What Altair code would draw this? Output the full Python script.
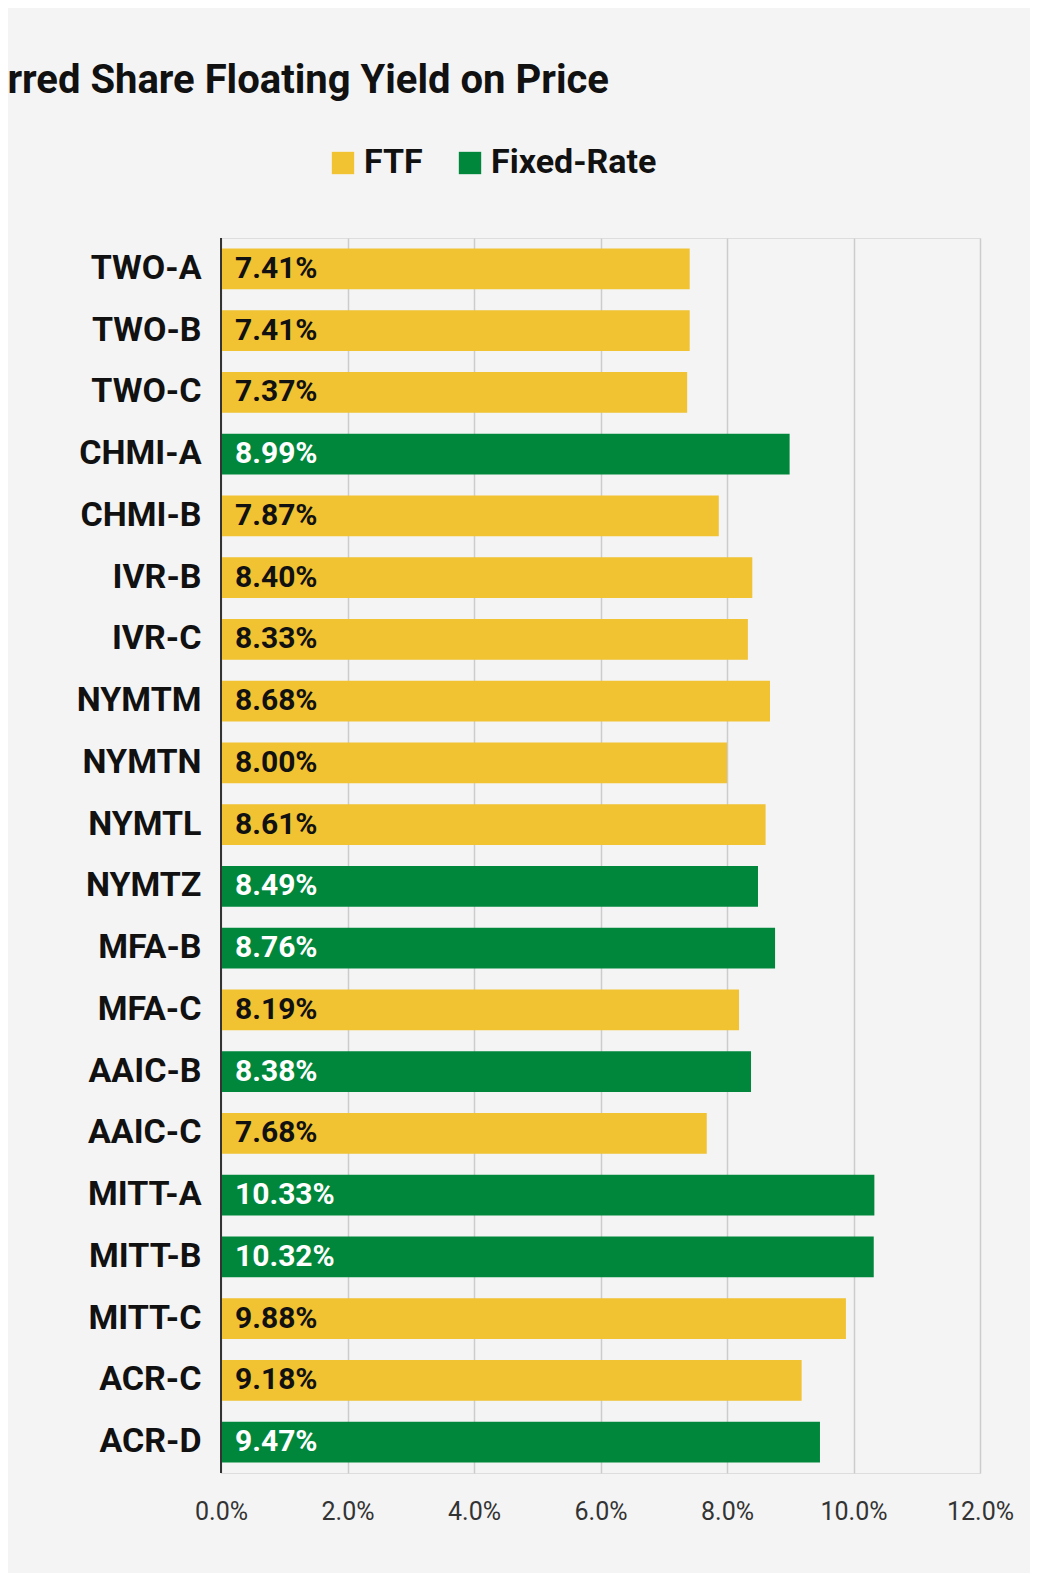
import pandas as pd
import altair as alt

tickers = ["TWO-A", "TWO-B", "TWO-C", "CHMI-A", "CHMI-B", "IVR-B", "IVR-C", "NYMTM",
           "NYMTN", "NYMTL", "NYMTZ", "MFA-B", "MFA-C", "AAIC-B", "AAIC-C", "MITT-A",
           "MITT-B", "MITT-C", "ACR-C", "ACR-D"]
yields = [7.41, 7.41, 7.37, 8.99, 7.87, 8.40, 8.33, 8.68, 8.00, 8.61, 8.49, 8.76,
          8.19, 8.38, 7.68, 10.33, 10.32, 9.88, 9.18, 9.47]
kinds = ["FTF", "FTF", "FTF", "Fixed-Rate", "FTF", "FTF", "FTF", "FTF", "FTF", "FTF",
         "Fixed-Rate", "Fixed-Rate", "FTF", "Fixed-Rate", "FTF", "Fixed-Rate",
         "Fixed-Rate", "FTF", "FTF", "Fixed-Rate"]

df = pd.DataFrame({"ticker": tickers, "yield": yields, "kind": kinds})
df["label"] = df["yield"].map(lambda v: f"{v:.2f}%")
df["frac"] = df["yield"] / 100

y = alt.Y("ticker:N", sort=tickers, title=None,
          scale=alt.Scale(paddingInner=0.34, paddingOuter=0.17),
          axis=alt.Axis(labelFontSize=34, labelFontWeight="bold", labelColor="#111",
                        labelPadding=20, ticks=False, domain=False))

bars = alt.Chart(df).mark_bar().encode(
    x=alt.X("frac:Q", title=None, scale=alt.Scale(domain=[0, 0.12]),
            axis=alt.Axis(format=".1%", values=[0, 0.02, 0.04, 0.06, 0.08, 0.10, 0.12],
                          labelFontSize=25, labelColor="#333", labelPadding=26,
                          labelFlush=False,
                          ticks=False, domain=False, gridColor="#cccccc", gridWidth=1.5)),
    y=y,
    color=alt.Color("kind:N", scale=alt.Scale(domain=["FTF", "Fixed-Rate"],
                                              range=["#f1c232", "#00873c"]),
                    legend=alt.Legend(title=None, orient="none", legendX=105, legendY=-92,
                                      direction="horizontal", symbolType="square",
                                      symbolSize=500, symbolStrokeWidth=0,
                                      labelFontSize=34, labelFontWeight="bold",
                                      labelLimit=400,
                                      labelColor="#111", columnPadding=30)),
)

axis_line = alt.Chart(df).mark_rule(color="#333", strokeWidth=2).encode(
    x=alt.datum(0))

text = alt.Chart(df).mark_text(align="left", dx=14, fontSize=30, fontWeight="bold").encode(
    x=alt.datum(0),
    y=y,
    text="label:N",
    color=alt.Color("kind:N", scale=alt.Scale(domain=["FTF", "Fixed-Rate"],
                                              range=["#111111", "#ffffff"]), legend=None),
)

chart = alt.layer(bars, axis_line, text).resolve_scale(color="independent").properties(
    width=759, height=1235,
    padding={"left": 213, "top": 230, "right": 50, "bottom": 100},
    autosize="none",
    background="#f4f4f4",
    title=alt.Title("Preferred Share Floating Yield on Price", fontSize=40,
                    fontWeight="bold", color="#111", anchor="start", dx=-166, offset=45),
).configure_view(stroke=None).configure(font="Roboto")

chart.save("out.html", embed_options={"renderer": "svg", "actions": False})
